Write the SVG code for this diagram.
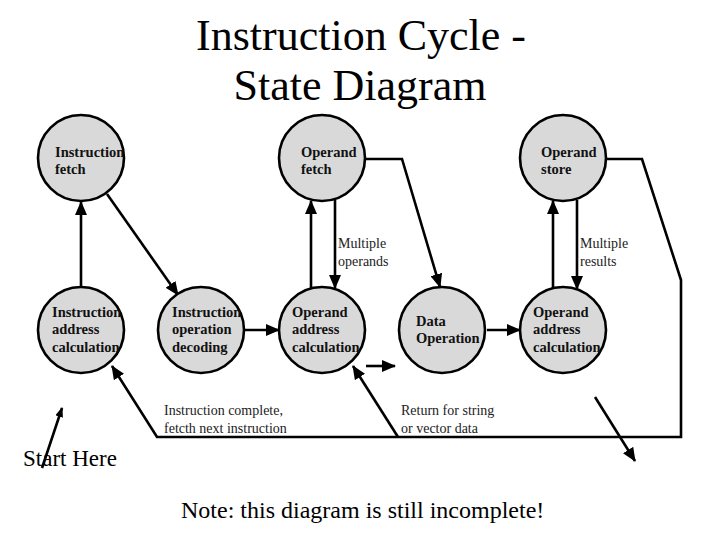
<svg xmlns="http://www.w3.org/2000/svg" width="720" height="540" viewBox="0 0 720 540">
<defs>
<marker id="ah" markerUnits="userSpaceOnUse" markerWidth="14" markerHeight="12" refX="13" refY="6" orient="auto"><path d="M0,0 L14,6 L0,12 Z" fill="#000"/></marker>
<marker id="ahs" markerUnits="userSpaceOnUse" markerWidth="10" markerHeight="8" refX="9" refY="4" orient="auto"><path d="M0,0 L10,4 L0,8 Z" fill="#000"/></marker>
<style>
.node circle{fill:#d9d9d9;stroke:#000;stroke-width:2.6}
.node text{font-family:"Liberation Serif","Times New Roman",serif;font-weight:bold;font-size:14.5px;fill:#111}
.c{fill:none;stroke:#000;stroke-width:2.6;stroke-linejoin:miter}
.lbl{font-family:"Liberation Serif","Times New Roman",serif;font-size:14px;fill:#222}
.big{font-family:"Liberation Serif","Times New Roman",serif;fill:#000}
</style>
</defs>
<rect width="720" height="540" fill="#fff"/>
<text class="big" x="361" y="50" font-size="44" text-anchor="middle">Instruction Cycle -</text>
<text class="big" x="360" y="100" font-size="44" text-anchor="middle">State Diagram</text>

<g id="connectors">
<line class="c" x1="81" y1="287" x2="81" y2="202" marker-end="url(#ah)"/>
<line class="c" x1="107" y1="194" x2="178" y2="295" marker-end="url(#ah)"/>
<line class="c" x1="245" y1="330" x2="279" y2="330" marker-end="url(#ah)"/>
<line class="c" x1="311" y1="288" x2="311" y2="201" marker-end="url(#ah)"/>
<line class="c" x1="335" y1="200" x2="335" y2="288" marker-end="url(#ah)"/>
<polyline class="c" points="366,159 402,159 440,287" marker-end="url(#ah)"/>
<line class="c" x1="487" y1="330" x2="520" y2="330" marker-end="url(#ah)"/>
<line class="c" x1="553" y1="288" x2="553" y2="201" marker-end="url(#ah)"/>
<line class="c" x1="577" y1="200" x2="577" y2="289" marker-end="url(#ah)"/>
<polyline class="c" points="607,159 642,159 681,280 681,437 157,437 112,366" marker-end="url(#ah)"/>
<line class="c" x1="398" y1="437" x2="353" y2="366" marker-end="url(#ah)"/>
<line class="c" x1="366" y1="366" x2="395" y2="366" stroke-width="4" marker-end="url(#ah)"/>
<line class="c" x1="595" y1="397" x2="635" y2="461" stroke-width="4.5" marker-end="url(#ah)"/>
<line class="c" x1="42" y1="468" x2="62" y2="408" stroke-width="1.6" marker-end="url(#ahs)"/>
</g>

<g id="n-instruction-fetch" class="node"><circle cx="81" cy="158" r="43"/><text x="55" y="157">Instruction</text><text x="55" y="174">fetch</text></g>
<g id="n-operand-fetch" class="node"><circle cx="322" cy="158" r="43"/><text x="301" y="157">Operand</text><text x="301" y="174">fetch</text></g>
<g id="n-operand-store" class="node"><circle cx="563" cy="158" r="43"/><text x="541" y="157">Operand</text><text x="541" y="174">store</text></g>
<g id="n-instruction-address" class="node"><circle cx="81" cy="330" r="43"/><text x="52" y="317">Instruction</text><text x="52" y="334">address</text><text x="52" y="352">calculation</text></g>
<g id="n-instruction-decoding" class="node"><circle cx="201" cy="330" r="43"/><text x="172" y="317">Instruction</text><text x="172" y="334">operation</text><text x="172" y="352">decoding</text></g>
<g id="n-operand-address-1" class="node"><circle cx="322" cy="330" r="43"/><text x="292" y="317">Operand</text><text x="292" y="334">address</text><text x="292" y="352">calculation</text></g>
<g id="n-data-operation" class="node"><circle cx="442" cy="330" r="43"/><text x="416" y="326">Data</text><text x="416" y="343">Operation</text></g>
<g id="n-operand-address-2" class="node"><circle cx="563" cy="330" r="43"/><text x="533" y="317">Operand</text><text x="533" y="334">address</text><text x="533" y="352">calculation</text></g>

<g id="labels">
<text class="lbl" x="338" y="248">Multiple</text><text class="lbl" x="338" y="266">operands</text>
<text class="lbl" x="580" y="248">Multiple</text><text class="lbl" x="580" y="266">results</text>
<text class="lbl" x="164" y="415">Instruction complete,</text><text class="lbl" x="164" y="433">fetcth next instruction</text>
<text class="lbl" x="401" y="415">Return for string</text><text class="lbl" x="401" y="433">or vector data</text>
<text class="big" x="23" y="466" font-size="23">Start Here</text>
<text class="big" x="181" y="518" font-size="24">Note: this diagram is still incomplete!</text>
</g>
</svg>
